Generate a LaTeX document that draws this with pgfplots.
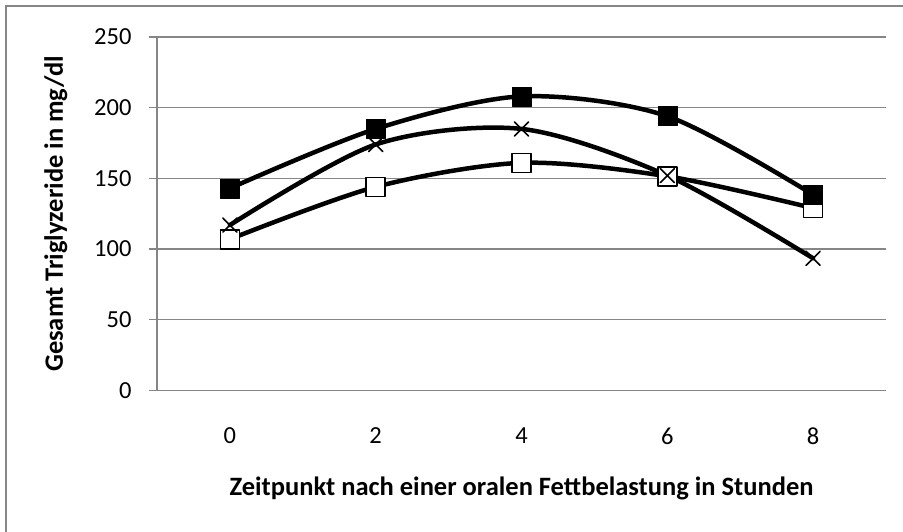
\documentclass[border=0pt]{standalone}
\usepackage{pgfplots}
\pgfplotsset{compat=1.18}
\usepackage{fontspec}
\setmainfont{Carlito}
\definecolor{gridgray}{RGB}{134,134,134}
\begin{document}
\begin{tikzpicture}[x=1pt,y=1pt]
\useasboundingbox (0,0) rectangle (903,-532);
\draw[gridgray, line width=1.5pt] (6,-532) -- (6,-6) -- (903,-6);
\begin{axis}[
  at={(157pt,-390.5pt)}, anchor=south west,
  scale only axis, width=729pt, height=353.5pt,
  xmin=-1, xmax=9, ymin=0, ymax=250,
  xtick={0,2,4,6,8}, ytick={0,50,100,150,200,250},
  axis x line*=bottom, axis y line*=left,
  axis line style={gridgray, line width=1.3pt, -},
  ymajorgrids, grid style={gridgray, line width=1.3pt},
  x tick style={draw=none},
  y tick style={gridgray, line width=1.3pt},
  tick align=outside, major tick length=8pt,
  /pgf/number format/assume math mode=true,
  tick label style={font=\fontsize{24.5}{28}\selectfont, text=black},
  yticklabel style={anchor=east, xshift=-14pt},
  xticklabel style={anchor=north, yshift=-26pt},
  xlabel={\textbf{Zeitpunkt nach einer oralen Fettbelastung in Stunden}},
  ylabel={\textbf{Gesamt Triglyzeride in mg/dl}},
  label style={font=\fontsize{26.5}{30}\selectfont},
  xlabel style={at={(axis description cs:0.5,0)}, anchor=base, yshift=-104.5pt},
  ylabel style={at={(axis description cs:0,0.5)}, anchor=base, yshift=94pt},
  clip=false,
  every axis plot/.append style={black, line width=4.5pt, smooth, line cap=round, line join=round},
]
% open squares
\addplot[mark=square*, mark size=9.5pt, mark options={fill=white, draw=black, line width=1.6pt}]
  coordinates {(0,107) (2,144) (4,161) (6,151.5) (8,129)};
% crosses
\addplot[mark=x, mark size=10pt, mark options={line width=1.6pt}]
  coordinates {(0,117) (2,174) (4,185) (6,152) (8,93.5)};
% filled squares
\addplot[mark=square*, mark size=9.5pt, mark options={fill=black, draw=black, line width=0.5pt}]
  coordinates {(0,143) (2,185) (4,208) (6,194) (8,138.5)};
\end{axis}
\end{tikzpicture}
\end{document}
